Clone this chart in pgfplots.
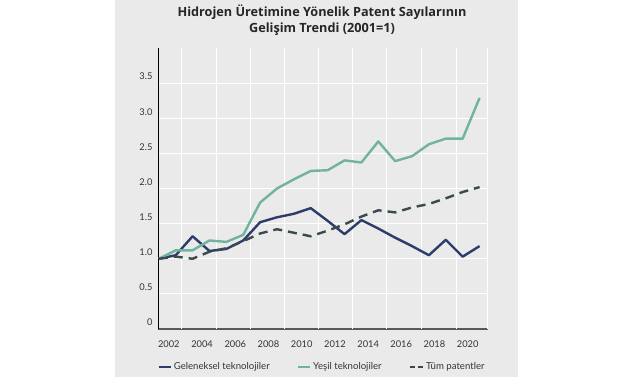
\documentclass[border=0pt]{standalone}
\usepackage{fontspec}
\setmainfont{Lato}
\newfontfamily\titlefont{Open Sans}
\usepackage{pgfplots}
\pgfplotsset{compat=1.18}
\definecolor{cNavy}{HTML}{2D3C6B}
\definecolor{cGreen}{HTML}{72B3A0}
\definecolor{cDash}{HTML}{3B4A4C}
\definecolor{cPanel}{HTML}{EAEAEA}
\definecolor{cText}{HTML}{333333}
\begin{document}
\begin{tikzpicture}[x=1pt,y=1pt]
\fill[white] (0,0) rectangle (641,380);
\fill[cPanel] (115,3) rectangle (518,380);
\node[font=\titlefont\bfseries\fontsize{12.7}{15.5}\selectfont, align=center, text=black!85] at (322,360) {Hidrojen Üretimine Yönelik Patent Sayılarının\\Gelişim Trendi (2001=1)};
\begin{axis}[
  at={(158pt,51pt)}, anchor=south west,
  scale only axis, width=330pt, height=281pt,
  xmin=2000.95, xmax=2020.5, ymin=0, ymax=4,
  axis x line*=bottom, axis y line*=left,
  x axis line style={draw=black!65, line width=1.3pt},
  y axis line style={draw=black, line width=0.9pt},
  major tick length=0pt,
  xtick={2001.59,2003.56,2005.53,2007.49,2009.46,2011.43,2013.40,2015.36,2017.33,2019.30},
  xticklabels={2002,2004,2006,2008,2010,2012,2014,2016,2018,2020},
  extra x ticks={2002.34,2004.42,2006.44,2008.46,2010.46,2012.47,2014.48,2016.56,2018.63,2020.47},
  extra x tick labels={},
  extra x tick style={grid=major, major grid style={white, line width=1.2pt}},
  ytick={0,0.5,1,1.5,2,2.5,3,3.5},
  yticklabels={0,0.5,1.0,1.5,2.0,2.5,3.0,3.5},
  ymajorgrids=true,
  major grid style={white, line width=1.2pt},
  tick label style={font=\fontsize{9.3}{11}\selectfont, text=cText},
  xticklabel style={yshift=-8pt},
  yticklabel style={yshift=6.5pt, xshift=-2pt},
  legend style={at={(0.497,-0.135)}, anchor=center, draw=none, fill=none,
    font=\fontsize{9.6}{11}\selectfont, text=cText,
    /tikz/every even column/.append style={column sep=25pt}},
  legend columns=3,
  legend cell align=left,
  legend image code/.code={\draw[#1] (0pt,0pt) -- (12pt,0pt);},
]
\addplot[cNavy, line width=2.4pt, line join=round] coordinates {
(2001,1.00) (2002,1.05) (2003,1.32) (2004,1.11) (2005,1.14) (2006,1.26) (2007,1.52)
(2008,1.59) (2009,1.64) (2010,1.72) (2011,1.54) (2012,1.35) (2013,1.55) (2014,1.43)
(2015,1.30) (2016,1.18) (2017,1.05) (2018,1.27) (2019,1.03) (2020,1.18)};
\addlegendentry{Geleneksel teknolojiler}
\addplot[cGreen, line width=2.4pt, line join=round] coordinates {
(2001,1.00) (2002,1.12) (2003,1.12) (2004,1.26) (2005,1.24) (2006,1.34) (2007,1.80)
(2008,2.00) (2009,2.13) (2010,2.25) (2011,2.26) (2012,2.40) (2013,2.37) (2014,2.67)
(2015,2.39) (2016,2.46) (2017,2.63) (2018,2.71) (2019,2.71) (2020,3.29)};
\addlegendentry{Yeşil teknolojiler}
\addplot[cDash, line width=2.4pt, dash pattern=on 9pt off 6pt,
  legend image code/.code={\draw[cDash, line width=2.4pt, dash pattern=on 5pt off 3pt] (0pt,0pt) -- (13pt,0pt);}] coordinates {
(2001,1.00) (2002,1.03) (2003,1.00) (2004,1.10) (2005,1.15) (2006,1.25) (2007,1.36)
(2008,1.42) (2009,1.37) (2010,1.32) (2011,1.40) (2012,1.49) (2013,1.60) (2014,1.69)
(2015,1.66) (2016,1.73) (2017,1.78) (2018,1.86) (2019,1.95) (2020,2.02)};
\addlegendentry{Tüm patentler}
\end{axis}
\end{tikzpicture}
\end{document}
